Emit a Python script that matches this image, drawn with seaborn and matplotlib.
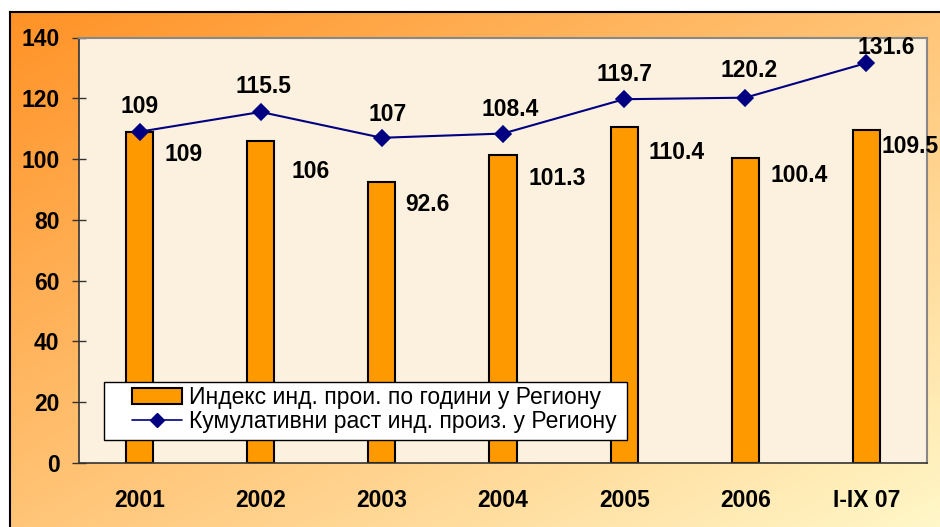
import numpy as np
import pandas as pd
import seaborn as sns
import matplotlib.pyplot as plt
from matplotlib.patches import Patch, Rectangle
from matplotlib.lines import Line2D

# data
categories = ["2001", "2002", "2003", "2004", "2005", "2006", "I-IX 07"]
index_values = [109, 106, 92.6, 101.3, 110.4, 100.4, 109.5]
cumulative_values = [109, 115.5, 107, 108.4, 119.7, 120.2, 131.6]
bar_label_name = "Индекс инд. прои. по години у Региону"
line_label_name = "Кумулативни раст инд. произ. у Региону"

# label placement (pixels) - labels were moved by hand in the original
bar_label_dx = [25, 31, 23, 25, 24, 25, 15]
bar_label_dy = [-23, -31, -23, -23, -25, -18, -16]
line_label_dx = [0, 3, 6, 7, 0, 4, 20]
line_label_dy = [25, 25, 23, 24, 25, 27, 16]

df = pd.DataFrame({"period": categories, "index": index_values,
                   "cumulative": cumulative_values})

sns.set_style("white")
plt.rcParams["font.family"] = ["Liberation Sans", "DejaVu Sans"]
plt.rcParams["text.color"] = "black"
plt.rcParams["xtick.color"] = "black"
plt.rcParams["ytick.color"] = "black"

fig = plt.figure(figsize=(9.4, 5.27), dpi=100)
fig.patch.set_facecolor("white")

# orange gradient frame
bg = fig.add_axes([10 / 940, 0, 1 - 10 / 940, (527 - 12) / 527])
yy, xx = np.mgrid[0:1:200j, 0:1:300j]
t = 0.5 * xx + 0.5 * yy
c0 = np.array([255, 146, 38]) / 255
c1 = np.array([255, 247, 200]) / 255
grad = c0[None, None, :] * (1 - t[..., None]) + c1[None, None, :] * t[..., None]
bg.imshow(grad, aspect="auto", extent=[0, 1, 0, 1], origin="upper")
bg.set_xticks([])
bg.set_yticks([])
for side in ["right", "bottom"]:
    bg.spines[side].set_visible(False)
for side in ["left", "top"]:
    bg.spines[side].set_color("black")
    bg.spines[side].set_linewidth(1.5)

ax = fig.add_axes([79 / 940, (527 - 463) / 527, 848 / 940, 425.5 / 527])
ax.set_facecolor("#fbf1de")

sns.barplot(data=df, x="period", y="index", color="#ff9900", saturation=1,
            width=0.225, edgecolor="black", linewidth=1.5, ax=ax, zorder=2)
sns.pointplot(data=df, x="period", y="cumulative", color="#000080",
              markers="D", markersize=8.5, linewidth=1.5, ax=ax, zorder=3)

for i, v in enumerate(index_values):
    ax.annotate(f"{v:g}", xy=(i, v), xytext=(bar_label_dx[i], bar_label_dy[i]),
                textcoords="offset pixels", ha="left", va="center",
                fontsize=16.5, fontweight="bold", annotation_clip=False)
for i, v in enumerate(cumulative_values):
    ax.annotate(f"{v:g}", xy=(i, v), xytext=(line_label_dx[i], line_label_dy[i]),
                textcoords="offset pixels", ha="center", va="center",
                fontsize=16.5, fontweight="bold", annotation_clip=False)

ax.set_xlim(-0.5, len(categories) - 0.5)
ax.set_ylim(0, 140)
ax.set_yticks(range(0, 141, 20))
ax.set_xlabel("")
ax.set_ylabel("")
ax.set_xticks(np.arange(-0.5, len(categories)), minor=True)
ax.tick_params(axis="x", which="major", length=0, pad=19, labelsize=16.5)
ax.tick_params(axis="x", which="minor", direction="inout", length=10, width=1,
               color="#333333")
ax.tick_params(axis="y", direction="inout", length=10, width=1, pad=9,
               labelsize=16.5, color="#333333", left=True)
for lbl in ax.get_xticklabels() + ax.get_yticklabels():
    lbl.set_fontweight("bold")
for side in ["left", "bottom"]:
    ax.spines[side].set_color("#333333")
    ax.spines[side].set_linewidth(1.2)
for side in ["top", "right"]:
    ax.spines[side].set_color("#888888")
    ax.spines[side].set_linewidth(1.5)

# legend box (drawn separately to get the wide side padding)
ax.add_patch(Rectangle((0.0295, 0.054), 0.6167, 0.1363, transform=ax.transAxes,
                       facecolor="white", edgecolor="black", linewidth=1,
                       zorder=4))
handles = [Patch(facecolor="#ff9900", edgecolor="black", linewidth=1.5),
           Line2D([0], [0], color="#000080", marker="D", markersize=7, linewidth=1.2)]
leg = ax.legend(handles, [bar_label_name, line_label_name], loc="center left",
                bbox_to_anchor=(0.0625, 0.1257), fontsize=16.5, frameon=False,
                handlelength=2.2, handletextpad=0.3, labelspacing=0.05,
                borderpad=0, borderaxespad=0)
leg.set_zorder(5)

fig.savefig("out.png", dpi=100)
